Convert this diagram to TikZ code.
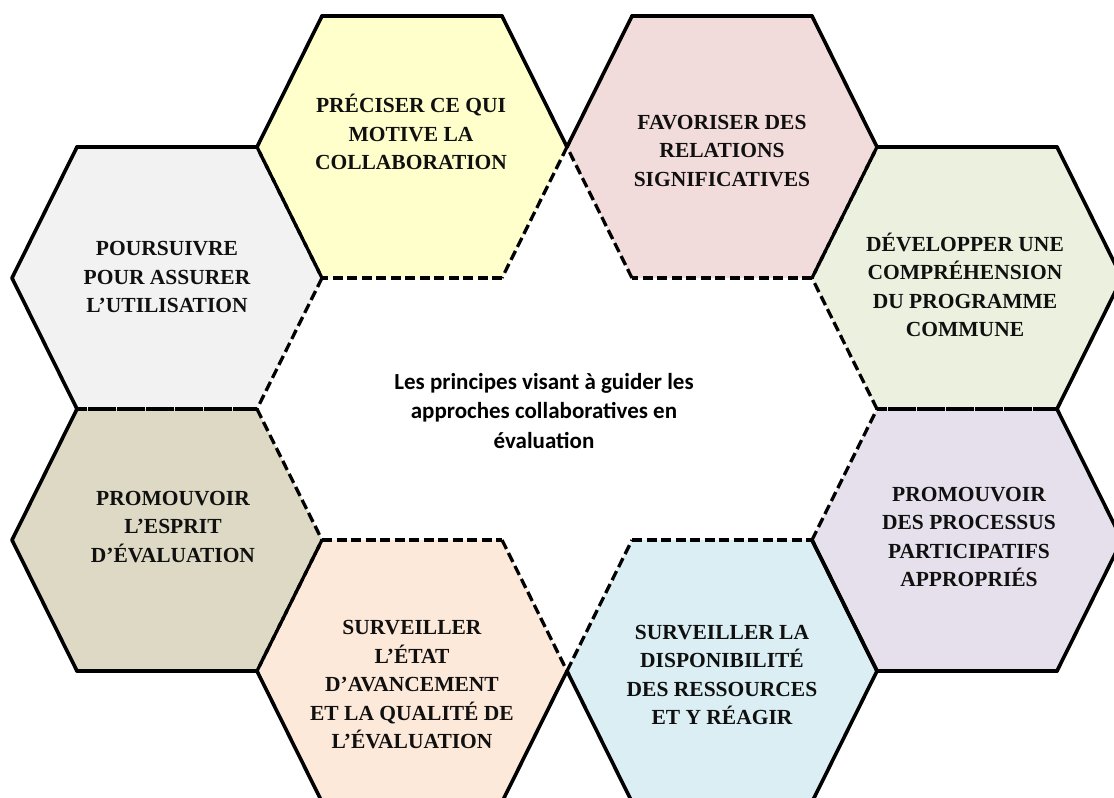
\documentclass[tikz,border=0pt]{standalone}
\usepackage{fontspec}
\setmainfont{Liberation Serif}
\newfontfamily\centrefont{Carlito}
\definecolor{hexyellow}{HTML}{FFFFCC}
\definecolor{hexpink}{HTML}{F2DCDB}
\definecolor{hexgray}{HTML}{F2F2F2}
\definecolor{hexgreen}{HTML}{EBF1DE}
\definecolor{hextan}{HTML}{DDD9C4}
\definecolor{hexpurple}{HTML}{E6E0EC}
\definecolor{hexpeach}{HTML}{FDE9D9}
\definecolor{hexblue}{HTML}{DAEEF3}
\definecolor{inktext}{HTML}{101010}
\tikzset{
  edgesolid/.style={line width=3.6pt, line cap=round},
  edgedash/.style={line width=3.3pt, dash pattern=on 10pt off 4.5pt},
  hexlabel/.style={align=center, text=inktext, font=\fontsize{21.5}{28.5}\selectfont\bfseries},
  centrelabel/.style={align=center, text=black, font=\centrefont\fontsize{23}{29.5}\selectfont\bfseries},
}
\begin{document}
\begin{tikzpicture}[x=1pt,y=-1pt]
    \useasboundingbox (0,0) rectangle (1114,798);
    \clip (0,0) rectangle (1114,798);
    % cell fills
    \foreach \cx/\cy/\col in {412/147/hexyellow, 722/147/hexpink, 167/278/hexgray, 967/278/hexgreen,
                              167/540/hextan, 967/540/hexpurple, 412/671/hexpeach, 722/671/hexblue}
    {
      \fill[\col] (\cx-90,\cy-131) -- (\cx+90,\cy-131) -- (\cx+155,\cy) -- (\cx+90,\cy+131)
        -- (\cx-90,\cy+131) -- (\cx-155,\cy) -- cycle;
    }
    % cell edges: top, upper right, lower right, bottom, lower left, upper left
    \foreach \cx/\cy/\ea/\eb/\ec/\ed/\ee/\ef in {
        412/147/edgesolid/edgesolid/edgedash/edgedash/edgedash/edgesolid,
        722/147/edgesolid/edgesolid/edgedash/edgedash/edgedash/edgesolid,
        167/278/edgesolid/edgedash/edgedash/edgedash/edgesolid/edgesolid,
        967/278/edgesolid/edgesolid/edgesolid/edgedash/edgedash/edgedash,
        167/540/edgedash/edgedash/edgedash/edgesolid/edgesolid/edgesolid,
        967/540/edgedash/edgesolid/edgesolid/edgesolid/edgesolid/edgedash,
        412/671/edgedash/edgedash/edgesolid/edgesolid/edgesolid/edgedash,
        722/671/edgedash/edgesolid/edgesolid/edgesolid/edgesolid/edgedash}
    {
      \draw[\ea] (\cx-90,\cy-131) -- (\cx+90,\cy-131);
      \draw[\eb] (\cx+90,\cy-131) -- (\cx+155,\cy);
      \draw[\ec] (\cx+155,\cy) -- (\cx+90,\cy+131);
      \draw[\ed] (\cx+90,\cy+131) -- (\cx-90,\cy+131);
      \draw[\ee] (\cx-90,\cy+131) -- (\cx-155,\cy);
      \draw[\ef] (\cx-155,\cy) -- (\cx-90,\cy-131);
    }
    \node[hexlabel] (motive) at (411,132) {PRÉCISER CE QUI\\MOTIVE LA\\COLLABORATION};
    \node[hexlabel] (relations) at (722,151) {FAVORISER DES\\RELATIONS\\SIGNIFICATIVES};
    \node[hexlabel] (utilisation) at (167,277) {POURSUIVRE\\POUR ASSURER\\L’UTILISATION};
    \node[hexlabel] (comprehension) at (965,285) {DÉVELOPPER UNE\\COMPRÉHENSION\\DU PROGRAMME\\COMMUNE};
    \node[hexlabel] (esprit) at (173,527) {PROMOUVOIR\\L’ESPRIT\\D’ÉVALUATION};
    \node[hexlabel] (processus) at (969,537) {PROMOUVOIR\\DES PROCESSUS\\PARTICIPATIFS\\APPROPRIÉS};
    \node[hexlabel] (avancement) at (412,685) {SURVEILLER\\L’ÉTAT\\D’AVANCEMENT\\ET LA QUALITÉ DE\\L’ÉVALUATION};
    \node[hexlabel] (ressources) at (722,675) {SURVEILLER LA\\DISPONIBILITÉ\\DES RESSOURCES\\ET Y RÉAGIR};
    \node[centrelabel] (principes) at (544,411) {Les principes visant à guider les\\approches collaboratives en\\évaluation};
  \end{tikzpicture}
\end{document}
